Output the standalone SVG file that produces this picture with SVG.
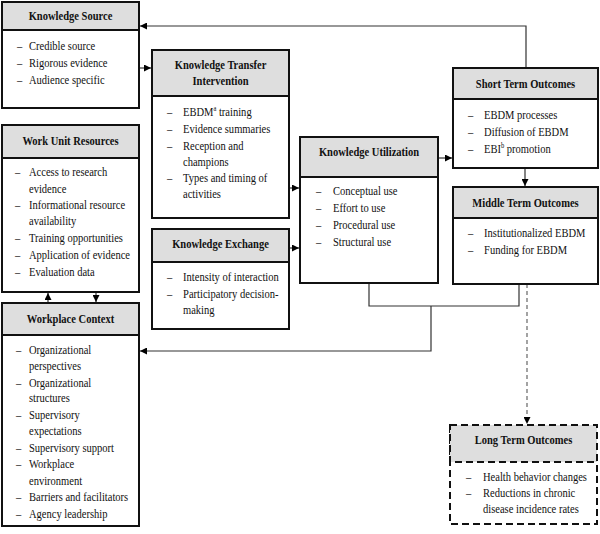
<svg xmlns="http://www.w3.org/2000/svg" width="600" height="534" viewBox="0 0 600 534">
<defs>
<style>
.box{fill:#fff;stroke:#111;stroke-width:2}
.hdr{fill:#dedede;stroke:#111;stroke-width:2}
.dash{stroke-dasharray:7,4}
.t{font-family:"Liberation Serif","Times New Roman",serif;font-size:13px;fill:#111}
.h{font-family:"Liberation Serif","Times New Roman",serif;font-size:13px;font-weight:bold;fill:#111;text-anchor:middle}
.c{fill:none;stroke:#333;stroke-width:1.2}
.cd{fill:none;stroke:#666;stroke-width:1.2;stroke-dasharray:4,3}
.sup{font-size:8px}
</style>
<marker id="arr" viewBox="0 0 8 8" refX="8" refY="4" markerWidth="7" markerHeight="7" markerUnits="userSpaceOnUse" orient="auto">
<path d="M0,0 L8,4 L0,8 Z" fill="#000"/>
</marker>
</defs>
<rect width="600" height="534" fill="#fff"/>

<g id="connectors">
<path class="c" d="M526,68 V26 H140" marker-end="url(#arr)"/>
<path class="c" d="M139,68 H151" marker-end="url(#arr)"/>
<path class="c" d="M289,188 H299" marker-end="url(#arr)"/>
<path class="c" d="M289,248 H299" marker-end="url(#arr)"/>
<path class="c" d="M438,158 H452" marker-end="url(#arr)"/>
<path class="c" d="M525,168 V186" marker-end="url(#arr)"/>
<path class="c" d="M369,283 V306 H519 V284"/>
<path class="c" d="M431,306 V351 H140" marker-end="url(#arr)"/>
<path class="cd" d="M527,284 V424" marker-end="url(#arr)"/>
<path class="c" d="M48,303 V293" marker-end="url(#arr)"/>
<path class="c" d="M96,292 V302" marker-end="url(#arr)"/>
</g>

<g id="knowledge-source">
<rect class="box" x="2" y="2" width="137" height="106"/>
<rect class="hdr" x="2" y="2" width="137" height="28"/>
<text class="h" transform="translate(70.5,20) scale(0.81,1)">Knowledge Source</text>
<text class="t" transform="translate(17,50) scale(0.81,1)">–<tspan x="14.8">Credible source</tspan></text>
<text class="t" transform="translate(17,67) scale(0.81,1)">–<tspan x="14.8">Rigorous evidence</tspan></text>
<text class="t" transform="translate(17,84) scale(0.81,1)">–<tspan x="14.8">Audience specific</tspan></text>
</g>

<g id="knowledge-transfer-intervention">
<rect class="box" x="152" y="50" width="137" height="168"/>
<rect class="hdr" x="152" y="50" width="137" height="46"/>
<text class="h" transform="translate(220.5,69) scale(0.81,1)">Knowledge Transfer</text>
<text class="h" transform="translate(220.5,85) scale(0.81,1)">Intervention</text>
<text class="t" transform="translate(167,116) scale(0.81,1)">–<tspan x="19.8">EBDM</tspan><tspan class="sup" dy="-5">a</tspan><tspan dy="5"> training</tspan></text>
<text class="t" transform="translate(167,132.5) scale(0.81,1)">–<tspan x="19.8">Evidence summaries</tspan></text>
<text class="t" transform="translate(167,149.5) scale(0.81,1)">–<tspan x="19.8">Reception and</tspan></text>
<text class="t" transform="translate(183,165.5) scale(0.81,1)">champions</text>
<text class="t" transform="translate(167,182) scale(0.81,1)">–<tspan x="19.8">Types and timing of</tspan></text>
<text class="t" transform="translate(183,198) scale(0.81,1)">activities</text>
</g>

<g id="work-unit-resources">
<rect class="box" x="2" y="125" width="137" height="167"/>
<rect class="hdr" x="2" y="125" width="137" height="33"/>
<text class="h" transform="translate(70.5,145) scale(0.81,1)">Work Unit Resources</text>
<text class="t" transform="translate(15,176) scale(0.81,1)">–<tspan x="17.3">Access to research</tspan></text>
<text class="t" transform="translate(29,192.5) scale(0.81,1)">evidence</text>
<text class="t" transform="translate(15,209) scale(0.81,1)">–<tspan x="17.3">Informational resource</tspan></text>
<text class="t" transform="translate(29,225) scale(0.81,1)">availability</text>
<text class="t" transform="translate(15,241.5) scale(0.81,1)">–<tspan x="17.3">Training opportunities</tspan></text>
<text class="t" transform="translate(15,258.5) scale(0.81,1)">–<tspan x="17.3">Application of evidence</tspan></text>
<text class="t" transform="translate(15,275.5) scale(0.81,1)">–<tspan x="17.3">Evaluation data</tspan></text>
</g>

<g id="knowledge-exchange">
<rect class="box" x="152" y="229" width="137" height="100"/>
<rect class="hdr" x="152" y="229" width="137" height="33"/>
<text class="h" transform="translate(220.5,248) scale(0.81,1)">Knowledge Exchange</text>
<text class="t" transform="translate(167,281) scale(0.81,1)">–<tspan x="19.8">Intensity of interaction</tspan></text>
<text class="t" transform="translate(167,298) scale(0.81,1)">–<tspan x="19.8">Participatory decision-</tspan></text>
<text class="t" transform="translate(183,313.5) scale(0.81,1)">making</text>
</g>

<g id="knowledge-utilization">
<rect class="box" x="300" y="137" width="138" height="146"/>
<rect class="hdr" x="300" y="137" width="138" height="40"/>
<text class="h" transform="translate(369,156) scale(0.81,1)">Knowledge Utilization</text>
<text class="t" transform="translate(316,195) scale(0.81,1)">–<tspan x="21">Conceptual use</tspan></text>
<text class="t" transform="translate(316,212) scale(0.81,1)">–<tspan x="21">Effort to use</tspan></text>
<text class="t" transform="translate(316,229) scale(0.81,1)">–<tspan x="21">Procedural use</tspan></text>
<text class="t" transform="translate(316,246) scale(0.81,1)">–<tspan x="21">Structural use</tspan></text>
</g>

<g id="short-term-outcomes">
<rect class="box" x="453" y="68" width="145" height="100"/>
<rect class="hdr" x="453" y="68" width="145" height="31"/>
<text class="h" transform="translate(525.5,88) scale(0.81,1)">Short Term Outcomes</text>
<text class="t" transform="translate(468,119) scale(0.81,1)">–<tspan x="19.8">EBDM processes</tspan></text>
<text class="t" transform="translate(468,136) scale(0.81,1)">–<tspan x="19.8">Diffusion of EBDM</tspan></text>
<text class="t" transform="translate(468,153) scale(0.81,1)">–<tspan x="19.8">EBI</tspan><tspan class="sup" dy="-5">b</tspan><tspan dy="5"> promotion</tspan></text>
</g>

<g id="middle-term-outcomes">
<rect class="box" x="453" y="187" width="145" height="97"/>
<rect class="hdr" x="453" y="187" width="145" height="31"/>
<text class="h" transform="translate(525.5,207) scale(0.81,1)">Middle Term Outcomes</text>
<text class="t" transform="translate(468,237) scale(0.81,1)">–<tspan x="19.8">Institutionalized EBDM</tspan></text>
<text class="t" transform="translate(468,254) scale(0.81,1)">–<tspan x="19.8">Funding for EBDM</tspan></text>
</g>

<g id="workplace-context">
<rect class="box" x="2" y="303" width="137" height="223"/>
<rect class="hdr" x="2" y="303" width="137" height="32"/>
<text class="h" transform="translate(70.5,323) scale(0.81,1)">Workplace Context</text>
<text class="t" transform="translate(16,354) scale(0.81,1)">–<tspan x="16">Organizational</tspan></text>
<text class="t" transform="translate(29,370) scale(0.81,1)">perspectives</text>
<text class="t" transform="translate(16,386.5) scale(0.81,1)">–<tspan x="16">Organizational</tspan></text>
<text class="t" transform="translate(29,402) scale(0.81,1)">structures</text>
<text class="t" transform="translate(16,419) scale(0.81,1)">–<tspan x="16">Supervisory</tspan></text>
<text class="t" transform="translate(29,435) scale(0.81,1)">expectations</text>
<text class="t" transform="translate(16,452) scale(0.81,1)">–<tspan x="16">Supervisory support</tspan></text>
<text class="t" transform="translate(16,468) scale(0.81,1)">–<tspan x="16">Workplace</tspan></text>
<text class="t" transform="translate(29,484.5) scale(0.81,1)">environment</text>
<text class="t" transform="translate(16,501) scale(0.81,1)">–<tspan x="16">Barriers and facilitators</tspan></text>
<text class="t" transform="translate(16,518) scale(0.81,1)">–<tspan x="16">Agency leadership</tspan></text>
</g>

<g id="long-term-outcomes">
<rect class="box dash" x="450" y="425" width="147" height="99"/>
<rect class="hdr dash" x="450" y="425" width="147" height="37"/>
<text class="h" transform="translate(523.5,444) scale(0.81,1)">Long Term Outcomes</text>
<text class="t" transform="translate(466,481) scale(0.81,1)">–<tspan x="21">Health behavior changes</tspan></text>
<text class="t" transform="translate(466,497) scale(0.81,1)">–<tspan x="21">Reductions in chronic</tspan></text>
<text class="t" transform="translate(483,512.5) scale(0.81,1)">disease incidence rates</text>
</g>
</svg>
